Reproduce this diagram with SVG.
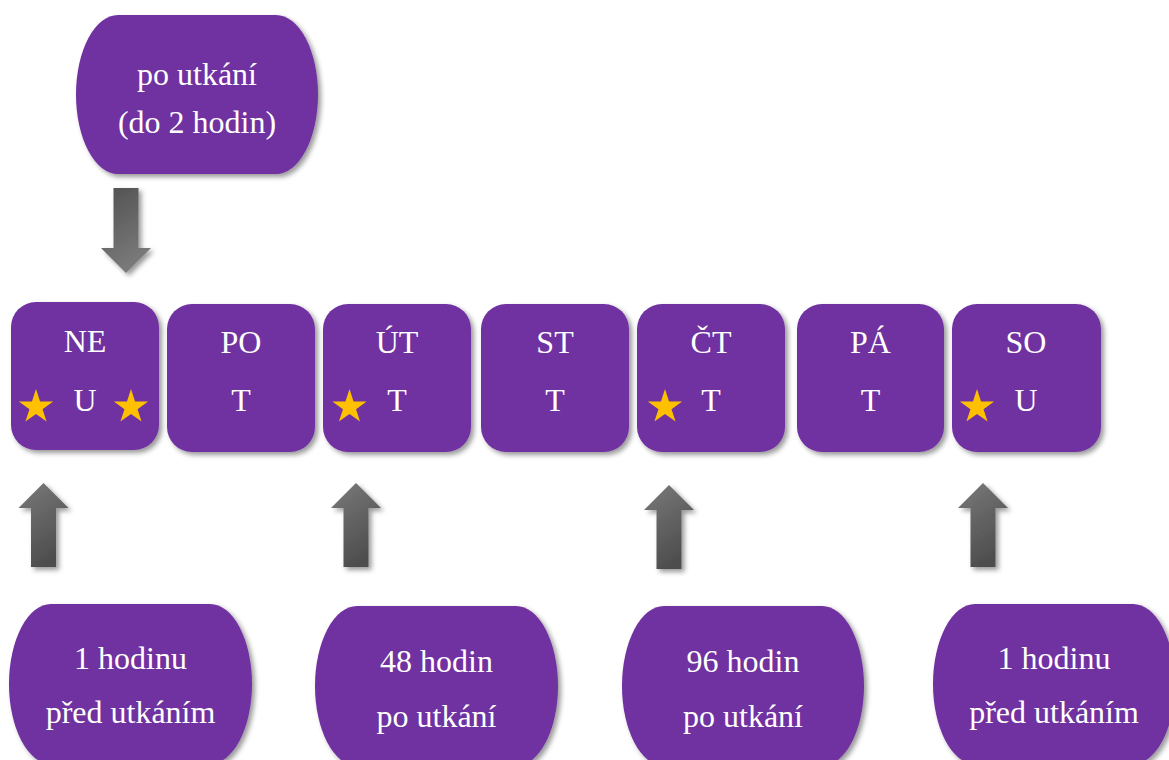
<svg xmlns="http://www.w3.org/2000/svg" width="1169" height="760" viewBox="0 0 1169 760">
<defs>
<filter id="sh" x="-20%" y="-20%" width="140%" height="140%">
<feDropShadow dx="3" dy="3" stdDeviation="2.5" flood-color="#000" flood-opacity="0.4"/>
</filter>
<linearGradient id="gUp" x1="0" y1="0" x2="0.4" y2="1">
<stop offset="0" stop-color="#7a7a7a"/>
<stop offset="1" stop-color="#4e4e4e"/>
</linearGradient>
<linearGradient id="gDown" x1="0" y1="0" x2="0.4" y2="1">
<stop offset="0" stop-color="#505050"/>
<stop offset="1" stop-color="#7a7a7a"/>
</linearGradient>
<path id="star" d="M0,-18 L4.04,-5.56 L17.12,-5.56 L6.54,2.13 L10.58,14.56 L0,6.88 L-10.58,14.56 L-6.54,2.13 L-17.12,-5.56 L-4.04,-5.56 Z"/>
<path id="upArrow" d="M0,0 L25,25 L12.5,25 L12.5,84 L-12.5,84 L-12.5,25 L-25,25 Z"/>
</defs>
<style>
.box{fill:#7030a0;filter:url(#sh);}
.t{fill:#ffffff;font-family:"Liberation Serif","Times New Roman",serif;font-size:32px;text-anchor:middle;}
.star{fill:#ffc000;}
.arr{fill:url(#gUp);filter:url(#sh);}
</style>
<rect width="1169" height="760" fill="#ffffff"/>

<g id="connectors">
<path class="arr" d="M126,273 L151,248 L138.5,248 L138.5,188 L113.5,188 L113.5,248 L101,248 Z" style="fill:url(#gDown)"/>
<use href="#upArrow" class="arr" x="43.5" y="483"/>
<use href="#upArrow" class="arr" x="356" y="483"/>
<use href="#upArrow" class="arr" x="669" y="485"/>
<use href="#upArrow" class="arr" x="983" y="483"/>
</g>

<g id="top-oval">
<rect class="box" x="76" y="15" width="242" height="159" rx="42" ry="79.5"/>
<text class="t" x="197" y="85">po utkání</text>
<text class="t" x="197" y="133">(do 2 hodin)</text>
</g>

<g id="day-ne">
<rect class="box" x="11" y="302" width="148" height="148" rx="25"/>
<text class="t" x="85" y="352">NE</text>
<text class="t" x="85" y="411">U</text>
<use href="#star" class="star" x="36" y="407"/>
<use href="#star" class="star" x="131" y="407"/>
</g>
<g id="day-po">
<rect class="box" x="167" y="304" width="148" height="148" rx="25"/>
<text class="t" x="241" y="353">PO</text>
<text class="t" x="241" y="411">T</text>
</g>
<g id="day-ut">
<rect class="box" x="323" y="304" width="148" height="148" rx="25"/>
<text class="t" x="397" y="353">ÚT</text>
<text class="t" x="397" y="411">T</text>
<use href="#star" class="star" x="349.5" y="407"/>
</g>
<g id="day-st">
<rect class="box" x="481" y="304" width="148" height="148" rx="25"/>
<text class="t" x="555" y="353">ST</text>
<text class="t" x="555" y="411">T</text>
</g>
<g id="day-ct">
<rect class="box" x="637" y="304" width="148" height="148" rx="25"/>
<text class="t" x="711" y="353">ČT</text>
<text class="t" x="711" y="411">T</text>
<use href="#star" class="star" x="665" y="407"/>
</g>
<g id="day-pa">
<rect class="box" x="797" y="304" width="147" height="148" rx="25"/>
<text class="t" x="870.5" y="353">PÁ</text>
<text class="t" x="870.5" y="411">T</text>
</g>
<g id="day-so">
<rect class="box" x="952" y="304" width="149" height="148" rx="25"/>
<text class="t" x="1026" y="353">SO</text>
<text class="t" x="1026" y="411">U</text>
<use href="#star" class="star" x="977" y="407"/>
</g>

<g id="oval-1">
<rect class="box" x="9" y="604" width="243" height="160" rx="42" ry="80"/>
<text class="t" x="130.5" y="669">1 hodinu</text>
<text class="t" x="130.5" y="723">před utkáním</text>
</g>
<g id="oval-2">
<rect class="box" x="315" y="606" width="243" height="160" rx="42" ry="80"/>
<text class="t" x="436.5" y="672">48 hodin</text>
<text class="t" x="436.5" y="727">po utkání</text>
</g>
<g id="oval-3">
<rect class="box" x="622" y="606" width="242" height="160" rx="42" ry="80"/>
<text class="t" x="743" y="672">96 hodin</text>
<text class="t" x="743" y="727">po utkání</text>
</g>
<g id="oval-4">
<rect class="box" x="933" y="604" width="242" height="160" rx="42" ry="80"/>
<text class="t" x="1054" y="669">1 hodinu</text>
<text class="t" x="1054" y="723">před utkáním</text>
</g>
</svg>
